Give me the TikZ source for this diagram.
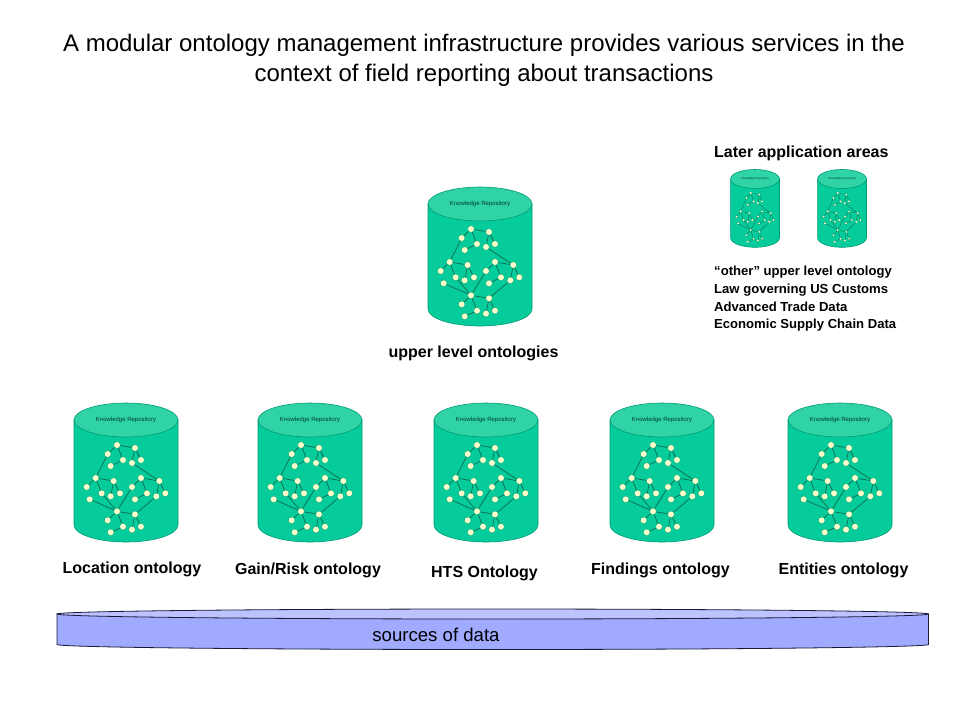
\documentclass[tikz,border=0pt]{standalone}
\usepackage{fontspec}
\setmainfont{Liberation Sans}
\definecolor{cylbody}{HTML}{06CB9A}
\definecolor{cyltop}{HTML}{2FD3A6}
\definecolor{cylline}{HTML}{009B75}
\definecolor{dotfill}{HTML}{FFFFCC}
\definecolor{dotline}{HTML}{0B6B50}
\definecolor{barbody}{HTML}{A0AAFF}
\definecolor{bartop}{HTML}{BCC3FF}
\definecolor{barline}{HTML}{1A1A3A}
\tikzset{
  graphdot/.style={circle,draw=cylline,line width=0.3pt,fill=dotfill,inner sep=0pt,minimum size=\dotsz},
  graphedge/.style={draw=dotline,line width=\edgew},
  boldlabel/.style={font=\bfseries\fontsize{16}{19}\selectfont,inner sep=0pt},
  krlabel/.style={font=\fontsize{6}{7}\selectfont,text=black!70!cylbody,inner sep=0pt},
  krsmall/.style={font=\fontsize{2.8}{3}\selectfont,text=black!70!cylbody,inner sep=0pt},
  pics/repository/.style n args={4}{code={
    \def\dotsz{#1}\def\edgew{#2}
    \begin{scope}[xscale=#3,yscale=#4]
    \path[fill=cylbody,draw=cylline,line width=0.6pt] (-52,0) -- (-52,105) arc[start angle=180,end angle=0,x radius=52,y radius=17] -- (52,0) -- cycle;
    \path[fill=cyltop,draw=cylline,line width=0.6pt] (0,0) ellipse[x radius=52,y radius=17];
    \foreach \n/\xx/\yy in {a/153/146,b/207/155,c/125/173,d/171/191,e/198/200,f/225/191,g/134/209,h/89/245,i/143/254,j/62/272,k/107/291,l/134/300,m/162/291,n/71/309,o/225/245,p/280/254,q/198/272,r/243/291,s/207/309,t/271/300,u/298/291,v/153/345,w/207/354,x/125/372,y/171/391,z/198/400,A/225/391,B/134/408}
      \coordinate (\n) at ({(\xx-180)/3},{(\yy-71)/3});
    \foreach \p/\q in {a/b,a/c,a/d,b/e,b/f,c/h,d/g,e/p,h/i,h/j,h/k,i/l,i/m,k/v,n/v,o/p,o/q,o/r,p/t,p/u,q/v,r/s,t/w,v/w,v/x,v/y,w/z,w/A,y/B}
      \draw[graphedge] (\p) -- (\q);
    \foreach \n in {a,b,c,d,e,f,g,h,i,j,k,l,m,n,o,p,q,r,s,t,u,v,w,x,y,z,A,B}
      \node[graphdot] at (\n) {};
    \end{scope}
  }}
}
\begin{document}
\begin{tikzpicture}[x=1pt,y=-1pt]
\useasboundingbox (0,0) rectangle (960,720);
\fill[white] (0,0) rectangle (960,720);
\node[font=\fontsize{24}{29.5}\selectfont,align=center,inner sep=0pt] (title) at (484,60.5) {A modular ontology management infrastructure provides various services in the\\context of field reporting about transactions};

\pic (upper) at (480,204) {repository={6.6pt}{0.7pt}{1}{1}};
\node[krlabel] (upperkr) at (480,204) {Knowledge Repository};
\pic (later1) at (755,179) {repository={3pt}{0.3pt}{.47}{.56}};
\pic (later2) at (842,179) {repository={3pt}{0.3pt}{.47}{.56}};
\node[krsmall] (krA) at (755,179) {Knowledge Repository};
\node[krsmall] (krB) at (842,179) {Knowledge Repository};
\foreach \nm/\cx in {loc/126,gain/310,hts/486,find/662,ent/840}{
  \pic (\nm) at (\cx,420) {repository={6.6pt}{0.7pt}{1}{1}};
  \node[krlabel] (\nm kr) at (\cx,420) {Knowledge Repository};
}

\node[boldlabel,anchor=west] (later) at (714,153) {Later application areas};
\node[font=\bfseries\fontsize{13.1}{17.7}\selectfont,align=left,anchor=north west,inner sep=0pt] (others) at (714,266) {“other” upper level ontology\\Law governing US Customs\\Advanced Trade Data\\Economic Supply Chain Data};
\node[boldlabel] (lupper) at (473.5,353.5) {upper level ontologies};
\node[boldlabel] (lloc) at (132,569.5) {Location ontology};
\node[boldlabel] (lgain) at (308,570) {Gain/Risk ontology};
\node[boldlabel] (lhts) at (484.5,573) {HTS Ontology};
\node[boldlabel] (lfind) at (660.5,570) {Findings ontology};
\node[boldlabel] (lent) at (843.5,570) {Entities ontology};

\path[fill=barbody,draw=barline,line width=0.8pt] (57,614) -- (57,644.5) arc[start angle=180,end angle=0,x radius=435.7,y radius=5] -- (928.4,614) -- cycle;
\path[fill=bartop,draw=barline,line width=0.8pt] (492.7,614) ellipse[x radius=435.7,y radius=5];
\node[font=\fontsize{18.6}{22}\selectfont,inner sep=0pt] (sources) at (436,634.5) {sources of data};
\end{tikzpicture}
\end{document}
